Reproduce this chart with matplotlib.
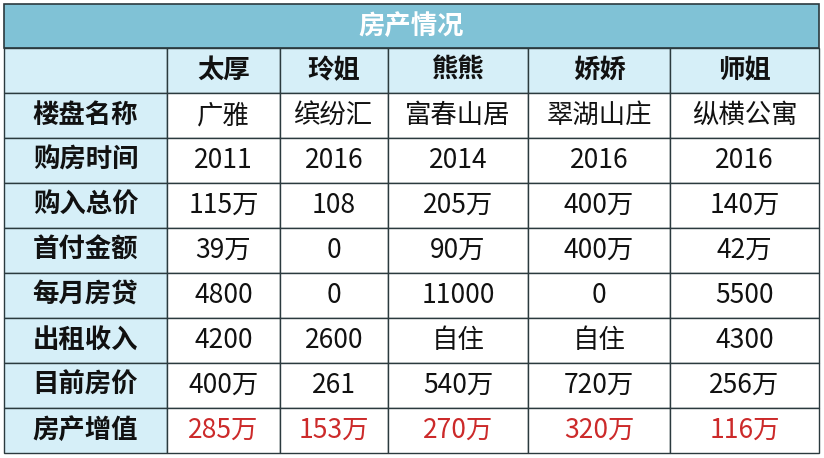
import matplotlib
matplotlib.use("Agg")
import matplotlib.pyplot as plt
from matplotlib.patches import Rectangle

plt.rcParams['font.family'] = ['Noto Sans CJK SC', 'DejaVu Sans']

title = "房产情况"
people = ["太厚", "玲姐", "熊熊", "娇娇", "师姐"]
row_labels = ["楼盘名称", "购房时间", "购入总价", "首付金额", "每月房贷", "出租收入", "目前房价", "房产增值"]
names = ["广雅", "缤纷汇", "富春山居", "翠湖山庄", "纵横公寓"]
years = ["2011", "2016", "2014", "2016", "2016"]
total_price = ["115万", "108", "205万", "400万", "140万"]
down_payment = ["39万", "0", "90万", "400万", "42万"]
monthly_loan = ["4800", "0", "11000", "0", "5500"]
rent_income = ["4200", "2600", "自住", "自住", "4300"]
current_price = ["400万", "261", "540万", "720万", "256万"]
appreciation = ["285万", "153万", "270万", "320万", "116万"]
rows = [names, years, total_price, down_payment, monthly_loan, rent_income, current_price, appreciation]

fig = plt.figure(figsize=(8.24, 4.58), dpi=100)
ax = fig.add_axes([0, 0, 1, 1])
ax.set_xlim(0, 824); ax.set_ylim(458, 0); ax.axis("off")

xs = [4, 167, 280, 388, 528, 670, 819]
ys = [4, 48, 93] + [93 + 45 * (i + 1) for i in range(8)]
title_bg = "#80c2d6"; light = "#d6eff8"; edge = "#2b3a3e"

# title row
ax.add_patch(Rectangle((xs[0], ys[0]), xs[-1] - xs[0], ys[1] - ys[0], fc=title_bg, ec=edge, lw=1.2))
ax.text((xs[0] + xs[-1]) / 2, (ys[0] + ys[1]) / 2, title, color="white", fontsize=19, fontweight="bold", ha="center", va="center")

for r in range(9):
    y0, y1 = ys[r + 1], ys[r + 2]
    for c in range(6):
        x0, x1 = xs[c], xs[c + 1]
        fc = light if (r == 0 or c == 0) else "white"
        ax.add_patch(Rectangle((x0, y0), x1 - x0, y1 - y0, fc=fc, ec=edge, lw=1.0))
        if r == 0:
            txt = "" if c == 0 else people[c - 1]
            kw = dict(fontweight="bold", color="#111111")
        elif c == 0:
            txt = row_labels[r - 1]
            kw = dict(fontweight="bold", color="#111111")
        else:
            txt = rows[r - 1][c - 1]
            kw = dict(color="#cc2a2a" if r == 8 else "#111111")
        if txt:
            ax.text((x0 + x1) / 2, (y0 + y1) / 2, txt, fontsize=19, ha="center", va="center", **kw)

fig.savefig("out.png", dpi=100)
